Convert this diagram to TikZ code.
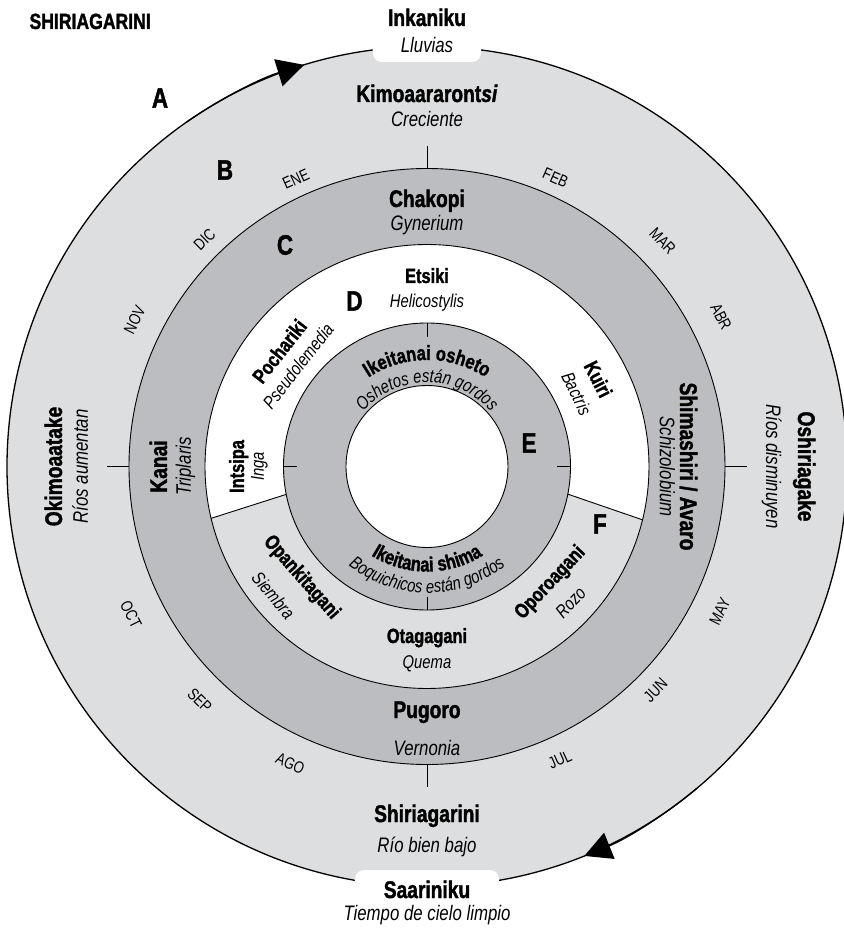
\documentclass[tikz,border=0pt]{standalone}
\usepackage{fontspec}
\setmainfont{Liberation Sans}[FakeStretch=0.8, BoldFeatures={FakeBold=1.5}, BoldItalicFeatures={FakeBold=1.5}]
\usetikzlibrary{arrows.meta, decorations.text}
\definecolor{ringlight}{RGB}{221,222,224}
\definecolor{ringdark}{RGB}{188,189,192}
\newcommand\innerbold{\bfseries\fontsize{20.5}{20.5}\selectfont}
\newcommand\inneritalic{\itshape\fontsize{18.5}{18.5}\selectfont}

\begin{document}
\begin{tikzpicture}[x=1pt, y=1pt, >=Stealth,
    season/.style={anchor=base, font=\bfseries\fontsize{24}{24}\selectfont},
    seasonsub/.style={anchor=base, font=\itshape\fontsize{21}{21}\selectfont},
    plant/.style={anchor=base, font=\bfseries\fontsize{20.5}{20.5}\selectfont},
    plantsub/.style={anchor=base, font=\itshape\fontsize{18.5}{18.5}\selectfont},
    month/.style={font=\fontsize{16.5}{16.5}\selectfont},
    ringletter/.style={font=\bfseries\fontsize{28}{28}\selectfont},
    ringline/.style={line width=0.9pt}]
    \clip (-427,-463.5) rectangle (417,466.5);

    \fill[ringlight] (0,0) circle[radius=420];
    \fill[ringdark] (0,0) circle[radius=298];
    \fill[white] (0,0) circle[radius=222];
    \fill[ringlight] (193.5:222) arc[start angle=193.5, end angle=346.1, radius=222]
      -- (348.9:143.5) arc[start angle=348.9, end angle=191.2, radius=143.5] -- cycle;
    \fill[ringdark] (0,0) circle[radius=143.5];
    \fill[white] (0,0) circle[radius=81];

    \draw[line width=1.3pt] (0,0) circle[radius=420];
    \draw[ringline] (0,0) circle[radius=298];
    \draw[ringline] (0,0) circle[radius=222];
    \draw[ringline] (0,0) circle[radius=143.5];
    \draw[ringline] (0,0) circle[radius=81];
    \draw[ringline] (191.2:143.5) -- (193.5:222);
    \draw[ringline] (348.9:143.5) -- (346.1:222);
    \foreach \a in {0,90,180,270} {
      \draw[ringline] (\a:298) -- (\a:320);
      \draw[ringline] (\a:130) -- (\a:143.5);
    }

    \fill[white, rounded corners=9pt] (-54,404.5) rectangle (54,490);
    \fill[white, rounded corners=9pt] (-72,-403.5) rectangle (72,-490);

    \draw[line width=1.3pt, -{Triangle[length=27pt, width=28pt]}] (125:420) arc[start angle=125, end angle=107, radius=420];
    \draw[line width=1.3pt, -{Triangle[length=27pt, width=28pt]}] (-50:420) arc[start angle=-50, end angle=-68, radius=420];

    \node[anchor=base west, font=\bfseries\fontsize{22}{22}\selectfont] (title) at (-401,437.5) {SHIRIAGARINI};

    \node[season] (inkaniku) at (0,440.5) {Inkaniku};
    \node[seasonsub] (lluvias) at (0,413.5) {Lluvias};
    \node[season] (kimoa) at (0,364.5) {Kimoaararont\textit{si}};
    \node[seasonsub] (creciente) at (0,339.5) {Creciente};
    \node[season] (shiriagarini) at (0,-355.5) {Shiriagarini};
    \node[seasonsub] (riobajo) at (0,-385.5) {Río bien bajo};
    \node[season] (saariniku) at (0,-431.5) {Saariniku};
    \node[seasonsub] (tiempo) at (0,-453.5) {Tiempo de cielo limpio};
    \node[season, rotate=90] (okimoa) at (-365,0) {Okimoaatake};
    \node[seasonsub, rotate=90] (riosaum) at (-339,0) {Ríos aumentan};
    \node[season, rotate=-90] (oshiria) at (371,0) {Oshiriagake};
    \node[seasonsub, rotate=-90] (riosdism) at (339,0) {Ríos disminuyen};

    \node[season] (chakopi) at (0,259.5) {Chakopi};
    \node[seasonsub] (gynerium) at (0,236.5) {Gynerium};
    \node[season, rotate=90] (kanai) at (-260,0) {Kanai};
    \node[seasonsub, rotate=90] (triplaris) at (-236,0) {Triplaris};
    \node[season, rotate=-90] (shimashiri) at (253,0) {Shimashiri / Avaro};
    \node[seasonsub, rotate=-90] (schizo) at (233,0) {Schizolobium};
    \node[season] (pugoro) at (0,-251.5) {Pugoro};
    \node[seasonsub] (vernonia) at (0,-288.5) {Vernonia};

    \node[plant] (etsiki) at (0,183.5) {Etsiki};
    \node[plantsub] (helico) at (0,159.5) {Helicostylis};
    \node[plant, rotate=52] (pochariki) at (142:180) {Pochariki};
    \node[plantsub, rotate=52] (pseudo) at (142:157) {Pseudolemedia};
    \node[plant, rotate=-63] (kuiri) at (27:185) {Kuiri};
    \node[plantsub, rotate=-64] (bactris) at (26:160) {Bactris};
    \node[plant, rotate=90] (intsipa) at (-183,0) {Intsipa};
    \node[plantsub, rotate=90] (inga) at (-163,0) {Inga};
    \node[plant, rotate=-48.5] (opanki) at (221.5:173) {Opankitagani};
    \node[plantsub, rotate=-50] (siembra) at (220:207) {Siembra};
    \node[plant] (otaga) at (0,-176.5) {Otagagani};
    \node[plantsub] (quema) at (0,-201.5) {Quema};
    \node[plant, rotate=46.7] (oporo) at (-43.3:175) {Oporoagani};
    \node[plantsub, rotate=46.6] (rozo) at (-43.4:204) {Rozo};

    \path[decorate, decoration={text along path, text align=center, text={|\innerbold|Ikeitanai osheto}}]
      (150:106.5) arc[start angle=150, end angle=30, radius=106.5];
    \path[decorate, decoration={text along path, text align=center, text={|\inneritalic|Oshetos están gordos}}]
      (165:84) arc[start angle=165, end angle=15, radius=84];
    \path[decorate, decoration={text along path, text align=center, text={|\innerbold|Ikeitanai shima}}]
      (210:105) arc[start angle=210, end angle=330, radius=105];
    \path[decorate, decoration={text along path, text align=center, text={|\inneritalic|Boquichicos están gordos}}]
      (200:126.5) arc[start angle=200, end angle=340, radius=126.5];

    \foreach \ang/\rot/\rr/\mon in {114.5/24.5/316/ENE, 66/-24/316/FEB, 43.7/-46.3/326/MAR,
        27/-63/330/ABR, -26.4/63.6/327/MAY, -44.4/45.6/320/JUN, -65.6/24.4/322/JUL,
        -114.7/-24.7/327/AGO, -134.2/-44.2/326/SEP, -153.4/-63.4/331/OCT,
        153.4/63.4/327/NOV, 134.4/44.4/318/DIC}
      \node[month, rotate=\rot] (m-\mon) at (\ang:\rr) {\mon};

    \node[ringletter] (lA) at (-267,368.5) {A};
    \node[ringletter] (lB) at (-202,296.5) {B};
    \node[ringletter] (lC) at (-142,221.5) {C};
    \node[ringletter] (lD) at (-72.5,165.5) {D};
    \node[ringletter] (lE) at (102,23.5) {E};
    \node[ringletter] (lF) at (173,-57.5) {F};
  \end{tikzpicture}
\end{document}
